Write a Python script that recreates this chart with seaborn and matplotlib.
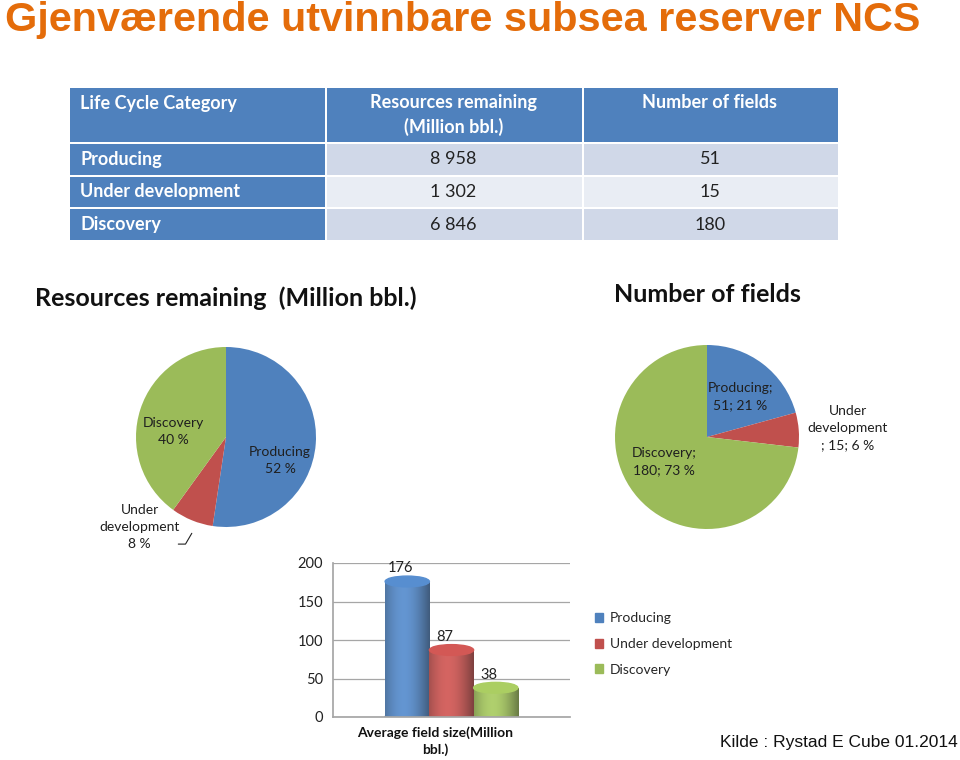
import numpy as np
import pandas as pd
import seaborn as sns
import matplotlib.pyplot as plt
from matplotlib.patches import Rectangle, Ellipse

# ---------------------------------------------------------------
# Data
# ---------------------------------------------------------------
categories = ['Producing', 'Under development', 'Discovery']
resources = [8958, 1302, 6846]          # Million bbl.
fields = [51, 15, 180]
avg_size = [176, 87, 38]                # Average field size (Million bbl.)
resources_txt = ['8 958', '1 302', '6 846']

colors = ['#4F81BD', '#C0504D', '#9BBB59']
paleta = dict(zip(categories, colors))

sns.set_theme(style='white')
plt.rcParams['font.family'] = ['Lato', 'DejaVu Sans']

fig = plt.figure(figsize=(9.6, 7.6), dpi=100)

# background axes in pixel coordinates (for table and texts)
bg = fig.add_axes([0, 0, 1, 1], zorder=0)
bg.set_xlim(0, 960)
bg.set_ylim(760, 0)
bg.axis('off')

# slide title
bg.text(5, 20, 'Gjenværende utvinnbare subsea reserver NCS', fontsize=29.8,
        fontweight='bold', color='#E46C0A', va='center', ha='left',
        family='Liberation Sans')

# ---------------------------------------------------------------
# Table
# ---------------------------------------------------------------
col_x = [(70, 325), (327, 582), (584, 838)]
row_y = [(88, 142), (144, 175), (177, 207), (209, 240)]
header = ['Life Cycle Category', 'Resources remaining\n(Million bbl.)', 'Number of fields']
body_fill = ['#D0D8E8', '#E9EDF4', '#D0D8E8']

for j, (x0, x1) in enumerate(col_x):
    y0, y1 = row_y[0]
    bg.add_patch(Rectangle((x0, y0), x1 - x0, y1 - y0, color='#4F81BD', lw=0))
    if j == 0:
        bg.text(x0 + 10, y0 + 15, header[j], color='white', fontsize=13,
                fontweight='bold', va='center', ha='left')
    else:
        bg.text((x0 + x1) / 2 - 1, y0 + 6, header[j], color='white', fontsize=13,
                fontweight='bold', va='top', ha='center', linespacing=1.45)

for i, cat in enumerate(categories):
    y0, y1 = row_y[i + 1]
    yc = (y0 + y1) / 2
    x0, x1 = col_x[0]
    bg.add_patch(Rectangle((x0, y0), x1 - x0, y1 - y0, color='#4F81BD', lw=0))
    bg.text(x0 + 10, yc, cat, color='white', fontsize=13, fontweight='bold',
            va='center', ha='left')
    for j, val in ((1, resources_txt[i]), (2, str(fields[i]))):
        x0, x1 = col_x[j]
        bg.add_patch(Rectangle((x0, y0), x1 - x0, y1 - y0, color=body_fill[i], lw=0))
        bg.text((x0 + x1) / 2 - 1, yc, val, color='#222222', fontsize=13,
                va='center', ha='center')

# ---------------------------------------------------------------
# Pie charts
# ---------------------------------------------------------------
def pie_axes(cx, cy, r):
    ax = fig.add_axes([(cx - r) / 960, 1 - (cy + r) / 760, 2 * r / 960, 2 * r / 760])
    ax.axis('off')
    return ax

def fix_limits(ax):
    ax.set_xlim(-1, 1)
    ax.set_ylim(-1, 1)
    ax.set_aspect('equal')

bg.text(35, 298, 'Resources remaining  (Million bbl.)', fontsize=18,
        fontweight='bold', va='center', ha='left', color='#111111')
bg.text(707, 295, 'Number of fields', fontsize=18, fontweight='bold',
        va='center', ha='center', color='#111111')

ax1 = pie_axes(226, 437, 90)
ax1.pie(resources, colors=colors, startangle=90, counterclock=False, radius=1,
        wedgeprops=dict(linewidth=0))
fix_limits(ax1)
pct1 = [round(100 * v / sum(resources)) for v in resources]
ax1.text(0.6, -0.26, f'Producing\n{pct1[0]} %', fontsize=10, ha='center',
         va='center', color='#1F1F1F', linespacing=1.5)
ax1.text(-0.59, 0.06, f'Discovery\n{pct1[2]} %', fontsize=10, ha='center',
         va='center', color='#1F1F1F', linespacing=1.5)
ax1.text(-0.96, -1.0, f'Under\ndevelopment\n{pct1[1]} %', fontsize=10,
         ha='center', va='center', color='#1F1F1F', linespacing=1.5,
         clip_on=False)
ax1.plot([-0.53, -0.45, -0.38], [-1.19, -1.19, -1.07], color='#222222', lw=0.8,
         clip_on=False)

ax2 = pie_axes(707, 437, 92)
ax2.pie(fields, colors=colors, startangle=90, counterclock=False, radius=1,
        wedgeprops=dict(linewidth=0))
fix_limits(ax2)
pct2 = [round(100 * v / sum(fields)) for v in fields]
ax2.text(0.36, 0.44, f'Producing;\n{fields[0]}; {pct2[0]} %', fontsize=10,
         ha='center', va='center', color='#1F1F1F', linespacing=1.5)
ax2.text(1.53, 0.10, f'Under\ndevelopment\n; {fields[1]}; {pct2[1]} %', fontsize=10,
         ha='center', va='center', color='#1F1F1F', linespacing=1.5, clip_on=False)
ax2.text(-0.47, -0.27, f'Discovery;\n{fields[2]}; {pct2[2]} %', fontsize=10,
         ha='center', va='center', color='#1F1F1F', linespacing=1.5)

# ---------------------------------------------------------------
# Bar chart (cylinder look)
# ---------------------------------------------------------------
df = pd.DataFrame({'Kategori': ['Average field size(Million\nbbl.)'] * 3,
                   'Status': categories, 'Verdi': avg_size})

axb = fig.add_axes([333 / 960, 43 / 760, 237 / 960, 154 / 760])
sns.barplot(data=df, x='Kategori', y='Verdi', hue='Status', palette=paleta,
            width=0.56, ax=axb, legend=False, saturation=1)
axb.set_xlim(-0.5, 0.5)
axb.set_ylim(0, 200)
axb.set_yticks([0, 50, 100, 150, 200])
axb.set_xticks([])
axb.yaxis.grid(True, color='#A6A6A6', lw=0.9)
axb.set_axisbelow(True)
axb.set_ylabel('')
axb.set_xlabel(df['Kategori'].iloc[0], fontsize=10, fontweight='bold',
               linespacing=1.45, color='#111111')
axb.xaxis.set_label_coords((435 - 333) / 237, -9 / 154)
axb.tick_params(axis='y', labelsize=10.5, colors='#222222', pad=7, length=0)
for s in ['top', 'right']:
    axb.spines[s].set_visible(False)
for s in ['left', 'bottom']:
    axb.spines[s].set_color('#A6A6A6')

ell_h = 14
for p, v in zip(axb.patches, avg_size):
    x, w, h = p.get_x(), p.get_width(), p.get_height()
    col = p.get_facecolor()
    p.set_edgecolor('none')
    # horizontal shading for cylinder body
    grad = np.linspace(0, 1, 64)
    shade = 0.55 + 0.45 * np.sin(np.pi * (0.15 + 0.85 * grad))
    img = np.ones((2, 64, 4))
    img[..., :3] = np.array(col[:3])[None, None, :] * shade[None, :, None]
    img[..., :3] = np.clip(img[..., :3] + 0.08, 0, 1)
    im = axb.imshow(img, extent=(x, x + w, 0, h), aspect='auto', zorder=2)
    im.set_clip_path(p)
    axb.add_patch(Ellipse((x + w / 2, 0), w, ell_h, color=np.array(col[:3]) * 0.75,
                          zorder=1.9))
    axb.add_patch(Ellipse((x + w / 2, h), w, ell_h,
                          color=np.clip(np.array(col[:3]) * 1.1, 0, 1), zorder=3))
    axb.text(x + w * 0.35, h + ell_h / 2 + 1, str(v), fontsize=10.5,
             ha='center', va='bottom', color='#222222', zorder=4)

handles = [Rectangle((0, 0), 1, 1, color=c) for c in colors]
fig.legend(handles, categories, loc='upper left', frameon=False, fontsize=10,
           bbox_to_anchor=(582 / 960, 1 - 600 / 760), handlelength=0.6,
           handleheight=0.6, handletextpad=0.5, labelspacing=0.98)

bg.text(958, 742, 'Kilde : Rystad E Cube 01.2014', fontsize=12.5, ha='right',
        va='center', family='Liberation Sans', color='#111111')

plt.savefig('out.png', dpi=100)
